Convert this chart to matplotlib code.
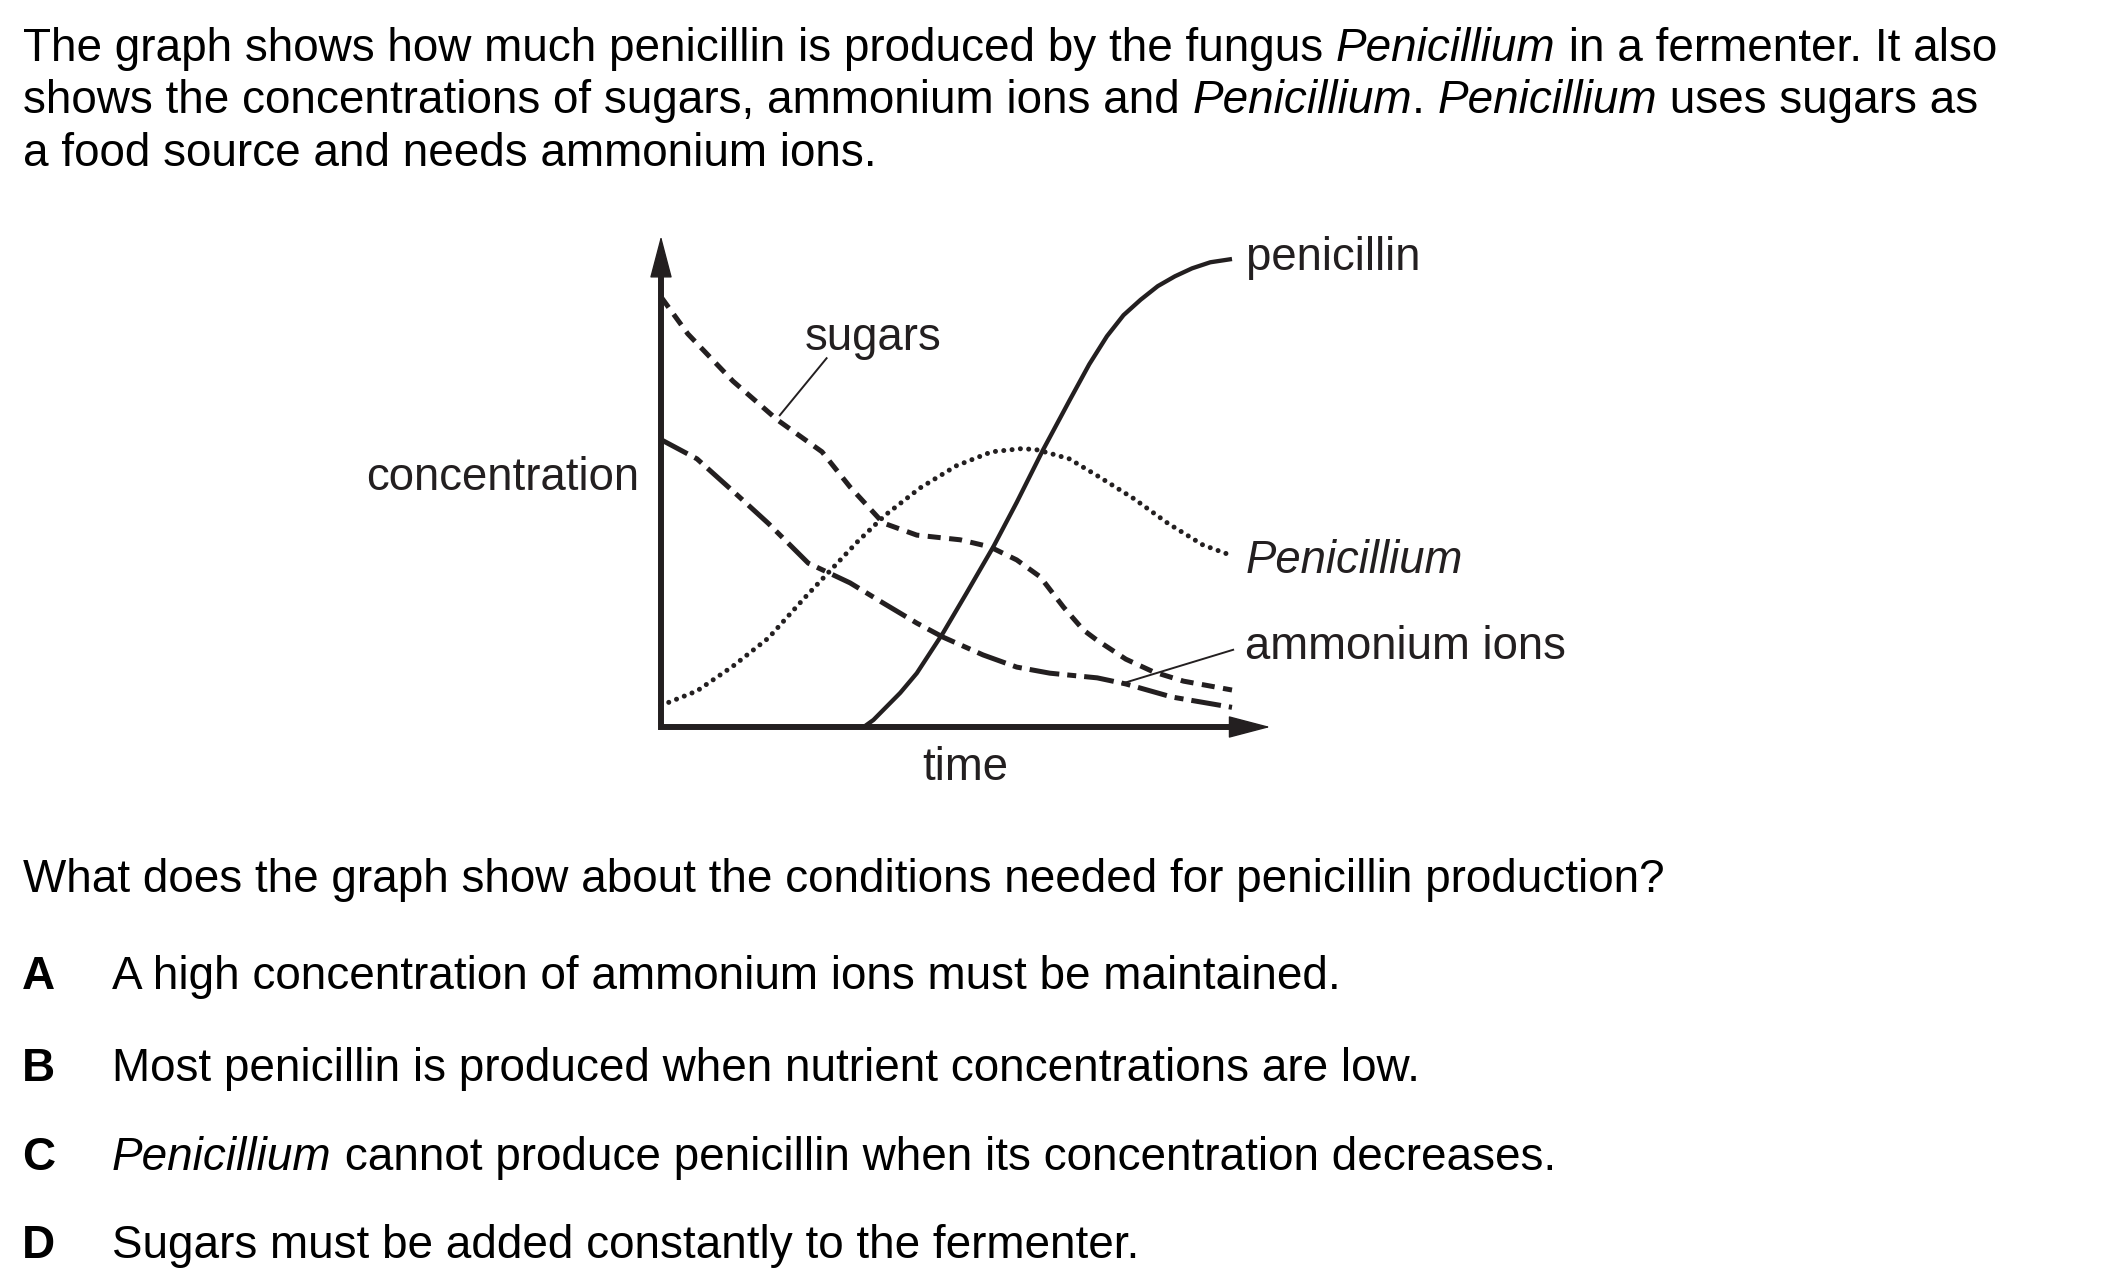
import matplotlib
matplotlib.use('Agg')
import matplotlib.pyplot as plt

W, H = 2101, 1283
INK = '#231f20'
FONT = 'Liberation Sans'

# curves (time and concentration in arbitrary units, 0-10)
sugars_t = [0.0, 0.47, 1.26, 2.04, 2.82, 3.31, 3.89, 4.48, 5.24, 5.76, 6.23, 6.64, 7.05, 7.40, 7.63, 8.14, 8.62, 9.15, 10.0]
sugars_c = [9.19, 8.40, 7.39, 6.56, 5.88, 5.13, 4.36, 4.10, 4.00, 3.85, 3.57, 3.21, 2.56, 2.07, 1.86, 1.45, 1.18, 0.98, 0.79]

ammonium_t = [0.0, 0.63, 1.26, 1.88, 2.58, 3.31, 3.89, 4.48, 4.94, 5.64, 6.23, 6.81, 7.64, 8.14, 8.95, 10.0]
ammonium_c = [6.14, 5.73, 5.04, 4.35, 3.50, 3.08, 2.65, 2.22, 1.92, 1.54, 1.28, 1.15, 1.05, 0.92, 0.64, 0.42]

penicillium_t = [0.0, 0.63, 1.26, 1.88, 2.50, 2.97, 3.45, 3.92, 4.54, 5.17, 5.79, 6.33, 6.60, 7.15, 7.68, 8.28, 8.88, 9.49, 10.0]
penicillium_c = [0.46, 0.77, 1.30, 1.90, 2.74, 3.35, 3.97, 4.52, 5.11, 5.58, 5.88, 5.95, 5.92, 5.73, 5.34, 4.88, 4.35, 3.89, 3.66]

penicillin_t = [3.55, 3.72, 3.89, 4.19, 4.48, 4.94, 5.35, 5.82, 6.23, 6.69, 7.16, 7.50, 7.81, 8.10,
                8.40, 8.70, 9.00, 9.30, 9.62, 10.0]
penicillin_c = [0.0, 0.15, 0.36, 0.73, 1.15, 2.01, 2.86, 3.85, 4.80, 5.92, 6.99, 7.75, 8.35, 8.80,
                9.13, 9.42, 9.63, 9.80, 9.93, 10.0]

# question text
intro_lines = [
    [('The graph shows how much penicillin is produced by the fungus ', 'normal'),
     ('Penicillium', 'italic'), (' in a fermenter. It also', 'normal')],
    [('shows the concentrations of sugars, ammonium ions and ', 'normal'),
     ('Penicillium', 'italic'), ('. ', 'normal'), ('Penicillium', 'italic'),
     (' uses sugars as', 'normal')],
    [('a food source and needs ammonium ions.', 'normal')],
]
question = 'What does the graph show about the conditions needed for penicillin production?'
option_letters = ['A', 'B', 'C', 'D']
option_texts = [
    [('A high concentration of ammonium ions must be maintained.', 'normal')],
    [('Most penicillin is produced when nutrient concentrations are low.', 'normal')],
    [('Penicillium', 'italic'), (' cannot produce penicillin when its concentration decreases.', 'normal')],
    [('Sugars must be added constantly to the fermenter.', 'normal')],
]

fig = plt.figure(figsize=(W / 100, H / 100), dpi=100)
fig.patch.set_facecolor('white')

# background axes in pixel units for the text
bg = fig.add_axes([0, 0, 1, 1])
bg.set_xlim(0, W)
bg.set_ylim(H, 0)
bg.axis('off')
renderer = fig.canvas.get_renderer()

TXT = 33.0


def seg_width(s, **kw):
    t1 = bg.text(0, 0, '|' + s + '|', **kw)
    t2 = bg.text(0, 0, '||', **kw)
    w = t1.get_window_extent(renderer).width - t2.get_window_extent(renderer).width
    t1.remove()
    t2.remove()
    return w


def rich_line(x, y, parts, size=TXT, color='black'):
    for s, style in parts:
        kw = dict(fontsize=size, fontstyle=style, family=FONT, color=color)
        bg.text(x, y, s, va='baseline', ha='left', **kw)
        x += seg_width(s, **kw)


for i, parts in enumerate(intro_lines):
    rich_line(23, 61 + i * 52.4, parts)

rich_line(23, 892, [(question, 'normal')])

option_y = [989, 1081, 1170, 1258]
for letter, parts, y in zip(option_letters, option_texts, option_y):
    bg.text(22, y, letter, fontsize=TXT, fontweight='bold', family=FONT,
            va='baseline', ha='left', color='black')
    rich_line(112, y, parts)

# the graph
ax = fig.add_axes([661 / W, 1 - 727 / H, (1232 - 661) / W, (727 - 259) / H])
ax.set_xlim(0, 10)
ax.set_ylim(0, 10)
ax.axis('off')

x_end, y_end = 10.67, 10.49
ax.plot([0, 0, x_end - 0.6], [y_end - 0.75, 0, 0], color=INK, lw=4.3,
        solid_joinstyle='miter', solid_capstyle='butt', clip_on=False)
head = dict(arrowstyle='-|>,head_length=1.37,head_width=0.36', mutation_scale=20,
            lw=1, color=INK, shrinkA=0, shrinkB=0)
ax.annotate('', xy=(x_end, 0), xytext=(x_end - 0.65, 0), arrowprops=head,
            annotation_clip=False)
ax.annotate('', xy=(0, y_end), xytext=(0, y_end - 0.8), arrowprops=head,
            annotation_clip=False)

ax.plot(sugars_t, sugars_c, color=INK, lw=3.6, linestyle=(0, (2.6, 1.7)),
        dash_capstyle='butt', solid_joinstyle='round', clip_on=False)
ax.plot(ammonium_t, ammonium_c, color=INK, lw=3.6,
        linestyle=(0, (6.0, 1.6, 1.8, 1.6)), dash_capstyle='butt', clip_on=False)
ax.plot(penicillium_t, penicillium_c, color=INK, lw=3.6,
        linestyle=(0, (0.01, 1.66)), dash_capstyle='round', clip_on=False)
ax.plot(penicillin_t, penicillin_c, color=INK, lw=3.1, solid_capstyle='butt',
        solid_joinstyle='round', clip_on=False)

# leader lines and labels
ax.plot([2.90, 2.08], [7.88, 6.66], color=INK, lw=1.4, clip_on=False)
ax.plot([10.02, 8.08], [1.65, 0.93], color=INK, lw=1.4, clip_on=False)

lab = dict(fontsize=32.8, family=FONT, color=INK, va='baseline')
ax.text(2.52, 8.06, 'sugars', ha='left', **lab)
ax.text(10.25, 9.76, 'penicillin', ha='left', **lab)
ax.text(10.23, 3.29, 'Penicillium', ha='left', fontstyle='italic', **lab)
ax.text(10.23, 1.45, 'ammonium ions', ha='left', **lab)
ax.text(5.32, -1.13, 'time', ha='center', **lab)
ax.text(-0.385, 5.06, 'concentration', ha='right', **lab)

fig.savefig('out.png', dpi=100, facecolor='white')
